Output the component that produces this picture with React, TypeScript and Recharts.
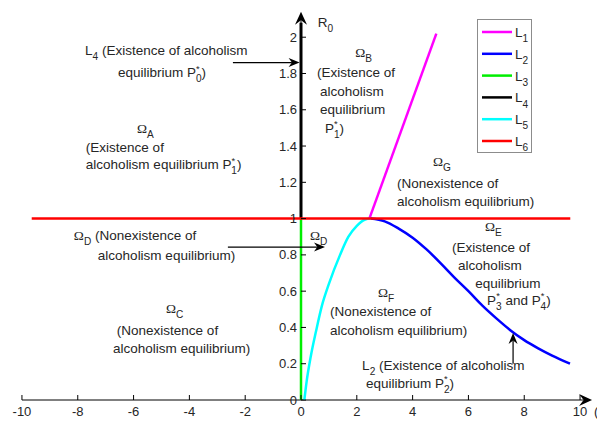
import React from 'react';
import {
  ComposedChart,
  Line,
  XAxis,
  YAxis,
  ReferenceLine,
  ReferenceDot,
  Legend
} from 'recharts';

const FONT = '"Liberation Sans", Arial, Helvetica, sans-serif';
const SERIF = '"Liberation Serif", "Times New Roman", serif';
const FS = 13.5;

const xTicks = [-10, -8, -6, -4, -2, 0, 2, 4, 6, 8, 10];
const yTicks = [0, 0.2, 0.4, 0.6, 0.8, 1, 1.2, 1.4, 1.6, 1.8, 2];
const yTickLabels = ['0', '0.2', '0.4', '0.6', '0.8', '1', '1.2', '1.4', '1.6', '1.8', '2'];

// boundary curves
const L1 = [{ x: 2.45, y: 1 }, { x: 4.85, y: 2.02 }];
const L2 = [
  { x: 2.5, y: 1 }, { x: 3.0, y: 0.985 }, { x: 3.5, y: 0.945 }, { x: 4.0, y: 0.895 },
  { x: 4.5, y: 0.83 }, { x: 5.0, y: 0.755 }, { x: 5.5, y: 0.675 }, { x: 6.0, y: 0.6 },
  { x: 6.5, y: 0.52 }, { x: 7.0, y: 0.45 }, { x: 7.5, y: 0.385 }, { x: 8.0, y: 0.33 },
  { x: 8.5, y: 0.285 }, { x: 9.0, y: 0.245 }, { x: 9.64, y: 0.2 }
];
const L3 = [{ x: 0, y: 0 }, { x: 0, y: 1 }];
const L4 = [{ x: 0, y: 1 }, { x: 0, y: 2.08 }];
const L5 = [
  { x: 0.12, y: 0 }, { x: 0.2, y: 0.1 }, { x: 0.35, y: 0.24 }, { x: 0.54, y: 0.38 },
  { x: 0.75, y: 0.52 }, { x: 1.0, y: 0.64 }, { x: 1.4, y: 0.8 }, { x: 1.7, y: 0.9 },
  { x: 2.0, y: 0.96 }, { x: 2.3, y: 0.995 }, { x: 2.5, y: 1 }
];
const L6 = [{ x: -9.65, y: 1 }, { x: 9.65, y: 1 }];

// text annotations: left edge x, middle y (data units)
const notes = [
  { x: -7.74, y: 1.928, t: 'L_{4} (Existence of alcoholism' },
  { x: -6.56, y: 1.807, t: 'equilibrium P^{*}_{0})' },
  { x: -5.88, y: 1.499, t: 'Ω_{A}' },
  { x: -7.71, y: 1.394, t: '(Existence of' },
  { x: -7.71, y: 1.3, t: 'alcoholism equilibrium P^{*}_{1})' },
  { x: 1.94, y: 1.917, t: 'Ω_{B}' },
  { x: 0.57, y: 1.807, t: '(Existence of' },
  { x: 0.68, y: 1.702, t: 'alcoholism' },
  { x: 0.68, y: 1.603, t: 'equilibrium' },
  { x: 0.86, y: 1.5, t: 'P^{*}_{1})' },
  { x: 4.73, y: 1.317, t: 'Ω_{G}' },
  { x: 3.44, y: 1.196, t: '(Nonexistence of' },
  { x: 3.44, y: 1.096, t: 'alcoholism equilibrium)' },
  { x: 6.59, y: 0.959, t: 'Ω_{E}' },
  { x: 5.41, y: 0.843, t: '(Existence of' },
  { x: 5.63, y: 0.744, t: 'alcoholism' },
  { x: 6.24, y: 0.645, t: 'equilibrium' },
  { x: 6.67, y: 0.551, t: 'P^{*}_{3} and P^{*}_{4})' },
  { x: 2.76, y: 0.595, t: 'Ω_{F}' },
  { x: 1.04, y: 0.487, t: '(Nonexistence of' },
  { x: 1.04, y: 0.386, t: 'alcoholism equilibrium)' },
  { x: -4.84, y: 0.507, t: 'Ω_{C}' },
  { x: -6.6, y: 0.386, t: '(Nonexistence of' },
  { x: -6.74, y: 0.287, t: 'alcoholism equilibrium)' },
  { x: -8.14, y: 0.909, t: 'Ω_{D} (Nonexistence of' },
  { x: -7.28, y: 0.799, t: 'alcoholism equilibrium)' },
  { x: 0.32, y: 0.909, t: 'Ω_{D}' },
  { x: 2.19, y: 0.193, t: 'L_{2} (Existence of alcoholism' },
  { x: 2.33, y: 0.094, t: 'equilibrium P^{*}_{2})' },
  { x: 0.6, y: 2.085, t: 'R_{0}' }
];

const arrows = [
  { from: { x: -2.44, y: 1.86 }, to: { x: -0.05, y: 1.86 } },
  { from: { x: -2.62, y: 0.843 }, to: { x: 0.86, y: 0.843 } },
  { from: { x: 7.6, y: 0.2 }, to: { x: 7.6, y: 0.37 } }
];

const rich = (s: string, fs: number) => {
  const tokens = s.split(/(\^\{[^}]*\}|_\{[^}]*\}|Ω)/).filter(t => t !== '');
  let shift = 0;
  let prevSup = false;
  return tokens.map((t, i) => {
    if (t.startsWith('^{')) {
      const tgt = -fs * 0.4;
      const el = <tspan key={i} dy={tgt - shift} fontSize={fs * 0.7}>{t.slice(2, -1)}</tspan>;
      shift = tgt; prevSup = true;
      return el;
    }
    if (t.startsWith('_{')) {
      const tgt = fs * 0.38;
      const el = (
        <tspan key={i} dx={prevSup ? -fs * 0.28 : 0} dy={tgt - shift} fontSize={fs * 0.75}>
          {t.slice(2, -1)}
        </tspan>
      );
      shift = tgt; prevSup = false;
      return el;
    }
    const el = (
      <tspan key={i} dy={-shift} fontFamily={t === 'Ω' ? SERIF : undefined}>{t}</tspan>
    );
    shift = 0; prevSup = false;
    return el;
  });
};

const ArrowShape = (p: any) => {
  const { x1, y1, x2, y2 } = p;
  const a = Math.atan2(y2 - y1, x2 - x1);
  const len = 11, w = 4.5;
  const bx = x2 - len * Math.cos(a), by = y2 - len * Math.sin(a);
  const nx = x2 - len * 0.7 * Math.cos(a), ny = y2 - len * 0.7 * Math.sin(a);
  const px = -Math.sin(a) * w, py = Math.cos(a) * w;
  return (
    <g>
      <line x1={x1} y1={y1} x2={nx} y2={ny} stroke="#000" strokeWidth={1.2} />
      <polygon
        points={`${x2},${y2} ${bx + px},${by + py} ${nx},${ny} ${bx - px},${by - py}`}
        fill="#000"
      />
    </g>
  );
};

const BigArrow = (p: any) => {
  const { x1, y1, x2, y2 } = p;
  const a = Math.atan2(y2 - y1, x2 - x1);
  const len = 13, w = 6;
  const bx = x2 - len * Math.cos(a), by = y2 - len * Math.sin(a);
  const nx = x2 - len * 0.65 * Math.cos(a), ny = y2 - len * 0.65 * Math.sin(a);
  const px = -Math.sin(a) * w, py = Math.cos(a) * w;
  return (
    <g>
      <line x1={x1} y1={y1} x2={nx} y2={ny} stroke="#000" strokeWidth={1} />
      <polygon
        points={`${x2},${y2} ${bx + px},${by + py} ${nx},${ny} ${bx - px},${by - py}`}
        fill="#000"
      />
    </g>
  );
};

const XTick = (p: any) => {
  const { x, y, payload } = p;
  return (
    <g>
      <line x1={x} x2={x} y1={y} y2={y - 5} stroke="#000" />
      <text x={x} y={y + 15.5} textAnchor="middle" fontSize={13} fontFamily={FONT} fill="#262626">
        {payload.value}
      </text>
    </g>
  );
};

const LegendBox = (props: any) => {
  const items = props.payload || [];
  return (
    <div style={{ width: 55, height: 134, border: '1px solid #8c8c8c', background: '#fff', boxSizing: 'border-box' }}>
      <svg width={53} height={132} style={{ display: 'block' }}>
        {items.map((it: any, i: number) => {
          const y = 12 + i * 21.8;
          return (
            <g key={i}>
              <line x1={4} x2={34} y1={y} y2={y} stroke={it.color} strokeWidth={2.5} />
              <text x={37} y={y + 5} fontSize={FS} fontFamily={FONT} fill="#262626">
                {rich(it.value, FS)}
              </text>
            </g>
          );
        })}
      </svg>
    </div>
  );
};

export default function App() {
  return (
    <div style={{ position: 'absolute', left: 0, top: 0, background: '#fff' }}>
      <ComposedChart width={597} height={421} margin={{ top: 10, right: 3, bottom: 0, left: 8 }}>
        <XAxis
          dataKey="x"
          type="number"
          domain={[-10.5, 10.5]}
          ticks={xTicks}
          allowDataOverflow
          axisLine={false}
          tickLine={false}
          tickSize={0}
          tickMargin={0}
          height={21}
          tick={<XTick />}
        />
        <YAxis type="number" domain={[0, 2.15]} allowDataOverflow hide />
        <ReferenceLine
          segment={[{ x: -10, y: 0 }, { x: 10.43, y: 0 }]}
          ifOverflow="visible"
          shape={BigArrow}
        />
        <ReferenceLine
          segment={[{ x: 0, y: 0 }, { x: 0, y: 2.14 }]}
          ifOverflow="visible"
          shape={BigArrow}
        />
        <Line data={L1} dataKey="y" name="L_{1}" stroke="#ff00ff" strokeWidth={2.5} dot={false} isAnimationActive={false} />
        <Line data={L2} dataKey="y" name="L_{2}" stroke="#0000ff" strokeWidth={2.5} dot={false} isAnimationActive={false} type="monotone" />
        <Line data={L3} dataKey="y" name="L_{3}" stroke="#00ee00" strokeWidth={2.5} dot={false} isAnimationActive={false} />
        <Line data={L4} dataKey="y" name="L_{4}" stroke="#000000" strokeWidth={3} dot={false} isAnimationActive={false} />
        <Line data={L5} dataKey="y" name="L_{5}" stroke="#00ffff" strokeWidth={2.5} dot={false} isAnimationActive={false} type="monotone" />
        <Line data={L6} dataKey="y" name="L_{6}" stroke="#ff0000" strokeWidth={2.5} dot={false} isAnimationActive={false} />
        {yTicks.map((v, i) => (
          <ReferenceDot
            key={'yt' + i}
            x={0}
            y={v}
            r={0}
            ifOverflow="visible"
            shape={(p: any) => (
              <g>
                <line x1={p.cx} x2={p.cx + 5} y1={p.cy} y2={p.cy} stroke="#000" />
                <text x={p.cx - 4} y={p.cy + 4.5} textAnchor="end" fontSize={13} fontFamily={FONT} fill="#262626">
                  {yTickLabels[i]}
                </text>
              </g>
            )}
          />
        ))}
        {arrows.map((a, i) => (
          <ReferenceLine key={'ar' + i} segment={[a.from, a.to]} ifOverflow="visible" shape={ArrowShape} />
        ))}
        {notes.map((n, i) => (
          <ReferenceDot
            key={'n' + i}
            x={n.x}
            y={n.y}
            r={0}
            ifOverflow="visible"
            shape={(p: any) => (
              <text x={p.cx} y={p.cy + FS * 0.35} fontSize={FS} fontFamily={FONT} fill="#262626">
                {rich(n.t, FS)}
              </text>
            )}
          />
        ))}
        <ReferenceDot
          x={10.5}
          y={0}
          r={0}
          ifOverflow="visible"
          shape={(p: any) => (
            <text x={p.cx} y={p.cy + 15.5} fontSize={13} fontFamily={FONT} fill="#262626">(</text>
          )}
        />
        <Legend
          layout="vertical"
          align="center"
          verticalAlign="middle"
          wrapperStyle={{ left: 477, top: 19, width: 55, height: 134 }}
          content={<LegendBox />}
          itemSorter={null as any}
        />
      </ComposedChart>
    </div>
  );
}
